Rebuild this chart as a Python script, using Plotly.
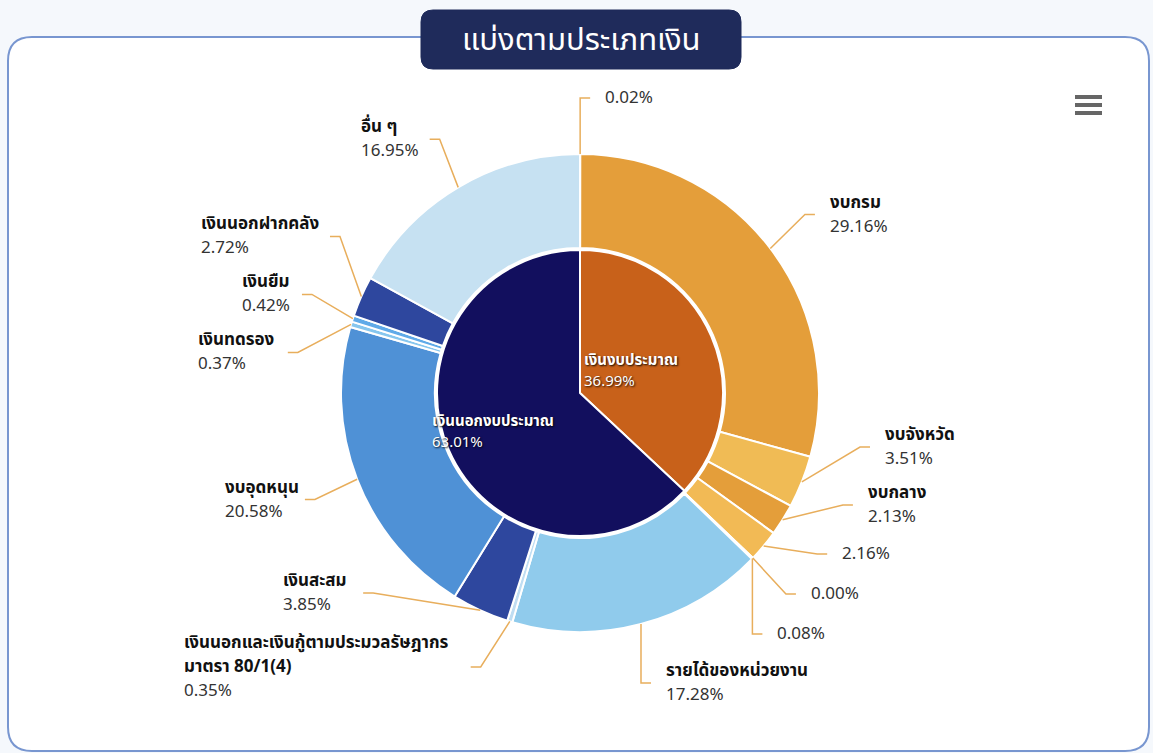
import math
import plotly.graph_objects as go

W, H = 1153, 753

# Inner ring: budget vs. non-budget money
group_names = ["เงินงบประมาณ", "เงินนอกงบประมาณ"]
group_values = [36.99, 63.01]
group_colors = ["#C8611A", "#120F5E"]

# Outer ring: breakdown by money source (clockwise from 12 o'clock)
item_names = [
    "", "งบกรม", "งบจังหวัด", "งบกลาง", "", "", "",
    "รายได้ของหน่วยงาน",
    "เงินนอกและเงินกู้ตามประมวลรัษฎากร มาตรา 80/1(4)",
    "เงินสะสม", "งบอุดหนุน", "เงินทดรอง", "เงินยืม", "เงินนอกฝากคลัง", "อื่น ๆ",
]
item_values = [0.02, 29.16, 3.51, 2.13, 2.16, 0.00, 0.08,
               17.28, 0.35, 3.85, 20.58, 0.37, 0.42, 2.72, 16.95]
item_colors = ["#E49E3A", "#E49E3A", "#F0BB55", "#E49E3A", "#F2BA55", "#E49E3A", "#F2BA55",
               "#90CBEC", "#BFDDF2", "#2E479E", "#4F91D6", "#86C6EE", "#5FAAE8", "#2E479E", "#C6E1F2"]

title_text = "แบ่งตามประเภทเงิน"

# ---- geometry (pixels) ----
CX, CY = 580, 393
R_OUT, R_IN, R_HOLE = 239, 143, 145
LABEL_R = R_OUT + 56
THAI = "Noto Sans Thai, Loma, Garuda, Roboto, sans-serif"
LABEL_SIZE, LABEL_LH = 17, 24
INNER_SIZE, INNER_LH = 15, 21


def px(x):
    return x / W


def py(y):
    return 1 - y / H


def polar(theta_deg, r):
    t = math.radians(theta_deg)
    return CX + r * math.sin(t), CY - r * math.cos(t)


def rrect_path(x0, y0, x1, y1, r):
    pts = [
        f"M{px(x0 + r)},{py(y0)}", f"L{px(x1 - r)},{py(y0)}",
        f"Q{px(x1)},{py(y0)} {px(x1)},{py(y0 + r)}", f"L{px(x1)},{py(y1 - r)}",
        f"Q{px(x1)},{py(y1)} {px(x1 - r)},{py(y1)}", f"L{px(x0 + r)},{py(y1)}",
        f"Q{px(x0)},{py(y1)} {px(x0)},{py(y1 - r)}", f"L{px(x0)},{py(y0 + r)}",
        f"Q{px(x0)},{py(y0)} {px(x0 + r)},{py(y0)}", "Z",
    ]
    return " ".join(pts)


# Thai vowel/tone marks that take no horizontal space
MARKS = {chr(c) for c in [0x0E31, *range(0x0E34, 0x0E3B), *range(0x0E47, 0x0E4F)]}


def text_width(s, size):
    """Rough advance width of a label line, used to left-align lines of a right-anchored label."""
    w = 0.0
    for ch in s:
        if ch in MARKS:
            continue
        if "\u0e00" <= ch <= "\u0e7f":
            w += 0.58
        elif ch.isdigit():
            w += 0.572
        elif ch == " ":
            w += 0.26
        elif ch == "%":
            w += 0.82
        elif ch in ".,":
            w += 0.27
        elif ch in "()":
            w += 0.33
        elif ch == "/":
            w += 0.37
        else:
            w += 0.6
    return w * size


def add_lines(x_left, y_center, lines, size, lh, colors, bolds, shadow=None):
    n = len(lines)
    for j, (t, c, b) in enumerate(zip(lines, colors, bolds)):
        font = dict(family=THAI, size=size, color=c)
        if shadow:
            font["shadow"] = shadow
        annotations.append(dict(
            x=px(x_left), y=py(y_center + (j - (n - 1) / 2) * lh), xref="paper", yref="paper",
            text=f"<b>{t}</b>" if b else t, showarrow=False,
            xanchor="left", yanchor="middle", align="left", font=font,
        ))


fig = go.Figure()

pct_labels = [f"{v:.2f}%" for v in item_values]
pie_labels = [n if n else p for n, p in zip(item_names, pct_labels)]

fig.add_trace(go.Pie(
    labels=pie_labels, values=item_values, sort=False, direction="clockwise", rotation=0,
    hole=R_HOLE / R_OUT, textinfo="none",
    marker=dict(colors=item_colors, line=dict(color="white", width=2)),
    domain=dict(x=[px(CX - R_OUT), px(CX + R_OUT)], y=[py(CY + R_OUT), py(CY - R_OUT)]),
    showlegend=False,
))
fig.add_trace(go.Pie(
    labels=group_names, values=group_values, sort=False, direction="clockwise", rotation=0,
    textinfo="none",
    marker=dict(colors=group_colors, line=dict(color="white", width=2)),
    domain=dict(x=[px(CX - R_IN), px(CX + R_IN)], y=[py(CY + R_IN), py(CY - R_IN)]),
    showlegend=False,
))

shapes = []
annotations = []

# frame and title tab
shapes.append(dict(type="path", xref="paper", yref="paper", layer="below",
                   path=rrect_path(8, 37, 1149, 751, 24),
                   fillcolor="white", line=dict(color="#7896D0", width=2)))
shapes.append(dict(type="path", xref="paper", yref="paper", layer="above",
                   path=rrect_path(421, 10, 741, 69, 12),
                   fillcolor="#1F2B5B", line=dict(color="#1F2B5B", width=1)))
annotations.append(dict(x=px(581), y=py(41), xref="paper", yref="paper", text=title_text,
                        showarrow=False, xanchor="center", yanchor="middle",
                        font=dict(family=THAI, size=31, color="white")))

# menu icon
for yy in (97, 105, 113):
    shapes.append(dict(type="line", xref="paper", yref="paper",
                       x0=px(1075), x1=px(1102), y0=py(yy), y1=py(yy),
                       line=dict(color="#666666", width=4)))

# ---- outer labels with connectors ----
total = sum(item_values)
cum = 0.0
mids = []
for v in item_values:
    mids.append((cum + v / 2) / total * 360.0)
    cum += v


def wrap(name, limit=30):
    if len(name) > limit and " " in name:
        i = name.find(" ")
        return [name[:i], name[i + 1:]]
    return [name] if name else []


def box_size(n_lines):
    return {1: 40, 2: 58, 3: 90}[n_lines]


def spread(targets, sizes, lo, hi):
    """Push label boxes apart so they do not overlap, keeping them near their targets."""
    groups = [[[i], sizes[i]] for i in range(len(targets))]

    def place(g):
        members, size = g
        off, acc = [], 0
        for m in members:
            off.append(acc + sizes[m] / 2)
            acc += sizes[m]
        top = sum(targets[m] - o for m, o in zip(members, off)) / len(members)
        top = max(lo, min(hi - size, top))
        return top, off

    changed = True
    while changed:
        changed = False
        for k in range(len(groups) - 1):
            t0, _ = place(groups[k])
            t1, _ = place(groups[k + 1])
            if t0 + groups[k][1] > t1 + 0.01:
                groups[k] = [groups[k][0] + groups[k + 1][0], groups[k][1] + groups[k + 1][1]]
                del groups[k + 1]
                changed = True
                break
    out = [0.0] * len(targets)
    for g in groups:
        top, off = place(g)
        for m, o in zip(g[0], off):
            out[m] = top + o
    return out


label_lines = []
for n, p in zip(item_names, pct_labels):
    label_lines.append(wrap(n) + [p])

for side in ("right", "left"):
    idx = [i for i, a in enumerate(mids) if (a < 180) == (side == "right")]
    idx.sort(key=lambda i: polar(mids[i], LABEL_R)[1])
    targets = [polar(mids[i], LABEL_R)[1] for i in idx]
    sizes = [box_size(len(label_lines[i])) for i in idx]
    ys = spread(targets, sizes, 60, 712)
    sgn = 1 if side == "right" else -1
    for i, yc in zip(idx, ys):
        ex, ey = polar(mids[i], R_OUT)
        dy = max(-LABEL_R, min(LABEL_R, yc - CY))
        ay = CY + dy
        ax = CX + sgn * math.sqrt(LABEL_R ** 2 - dy ** 2)
        if sgn * (ax - ex) < 10:
            ax = ex + sgn * 10
        bx = ax - sgn * 10
        shapes.append(dict(type="path", xref="paper", yref="paper",
                           path=f"M{px(ex)},{py(ey)} L{px(bx)},{py(ay)} L{px(ax)},{py(ay)}",
                           line=dict(color="#E8AE5C", width=1.5)))
        lines = label_lines[i]
        if side == "right":
            x_left = ax + 13
        else:
            x_left = ax - 13 - max(text_width(t, LABEL_SIZE) for t in lines)
        n = len(lines)
        add_lines(x_left, yc, lines, LABEL_SIZE, LABEL_LH,
                  ["#111111"] * (n - 1) + ["#333333"], [True] * (n - 1) + [False])

# ---- inner labels ----
inner_text_r = [0.38, 0.68]
gcum = 0.0
gtotal = sum(group_values)
for name, v, k in zip(group_names, group_values, inner_text_r):
    mid = (gcum + v / 2) / gtotal * 360.0
    gcum += v
    lx, ly = polar(mid, R_IN * k)
    lines = [name, f"{v:.2f}%"]
    wmax = max(text_width(t, INNER_SIZE) for t in lines)
    add_lines(lx - wmax / 2, ly, lines, INNER_SIZE, INNER_LH, ["white", "white"], [True, False],
              shadow="1px 1px 2px rgba(0,0,0,0.9)")

fig.update_layout(
    width=W, height=H, margin=dict(l=0, r=0, t=0, b=0),
    paper_bgcolor="#F5F8FC", plot_bgcolor="white",
    shapes=shapes, annotations=annotations,
)

fig.write_html("out.html")
